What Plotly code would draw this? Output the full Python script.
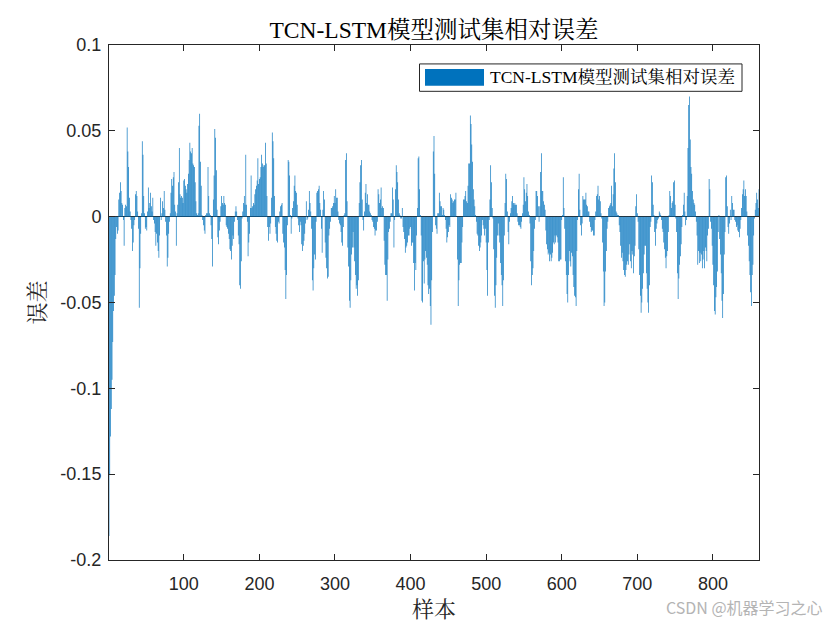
import plotly.graph_objects as go

# Relative error per test sample, in thousandths
errors_milli = [
    -186, -150, -128, -112, -95, -73, -55, -46, -34, -13, -6, -10, -8, 10, 14, 20, 15, 8, 7, -2,
    -17, 5, 7, 6, 52, 38, 29, 11, 3, -2, -7, -20, -15, -5, -2, 13, 15, 12, 3, -7,
    -53, -30, -10, 2, 44, 36, 12, 2, -7, -6, -8, 3, 17, 5, 8, 14, 6, 3, 11, -2,
    -4, -9, -17, -10, -15, -20, -24, -11, 11, -2, 2, 9, 5, 15, 4, -3, -11, -29, -24, -10,
    -3, 2, 14, 22, 18, 23, 26, 7, 3, -17, 2, 7, 20, 40, 13, 11, 12, 11, 8, 21,
    22, 18, 16, 14, 19, 25, 33, 43, 38, 37, 40, 31, 30, 29, 20, 9, 2, 1, 2, 53,
    60, 32, 18, 1, -2, -5, -8, -10, 1, 2, 2, 29, 12, 2, 1, -5, -13, -29, 10, 24,
    51, 46, 27, 4, -12, -16, -8, -3, 6, 12, 8, 7, 12, 8, 7, -5, -6, -7, -10, -13,
    -19, -20, -25, -17, -11, -13, -3, 3, 6, 3, -2, -11, -16, -40, -42, -26, -1, 3, 8, 12,
    7, 36, 7, -3, -23, -15, -10, 5, 24, 5, 6, 8, 7, 13, 16, 18, 21, 34, 19, 22,
    23, 29, 36, 31, 29, 30, 30, 43, 31, 12, -6, -14, -6, -10, -4, 11, 49, 44, 34, 12,
    -6, -10, -14, -15, -3, -4, 3, 6, 7, 8, -10, -15, -18, -31, -48, -34, -5, 33, 32, 24,
    1, -10, -1, 5, 9, 18, 24, 15, 14, 7, -1, -5, -9, -3, -5, -16, -20, -17, -14, -10,
    -4, 9, -2, -1, 4, 15, 8, 3, -7, -37, -43, -30, -22, -25, -3, 14, 15, 16, 18, 8,
    4, -7, -21, 4, 15, 10, -15, -24, -30, -36, -35, -11, -7, -3, 5, 5, 6, 8, 12, 8,
    16, 11, 11, 3, -2, -4, -5, -9, -15, -17, -6, 1, 2, 33, 37, 9, -18, -29, -49, -53,
    -37, -22, -18, -9, -18, -26, -34, -42, -40, -46, -37, 8, 20, 30, 33, 10, -2, -8, 3, 14,
    19, 8, 13, 7, 7, 3, 2, 1, -2, -3, -6, -7, -11, -8, -8, -3, 16, 13, 8, 10,
    17, 5, 6, 5, -14, -28, -34, -34, -49, -25, -9, -7, -3, 2, 2, 17, 10, -18, -2, 16,
    30, 26, 20, 10, 2, 1, -1, -1, 5, -6, -9, -13, -21, -18, -17, -15, -11, -11, -7, -6,
    -17, -15, -15, -27, -43, -27, -31, -11, 5, 34, 35, 16, 1, -11, -49, -50, -26, -39, -25, -20,
    -24, -28, -40, -45, -42, -52, -63, -37, -9, 38, 47, 25, -5, -7, -10, 2, 2, 14, 9, 6,
    6, 1, 5, 4, 1, -2, -7, -15, -12, -9, -5, -6, 13, 11, 10, 8, 9, 10, 10, 14,
    0, -25, -52, -37, -28, -27, -27, -15, -6, 10, 10, 12, 15, 9, 8, 18, 31, 31, 59, 54,
    42, 32, 16, 10, 6, 1, -3, -10, -11, -17, -20, -18, -15, -11, -2, -5, -7, -11, -7, -15,
    -31, -46, -15, -2, 10, 30, 20, 5, -1, -19, -46, -53, -40, -24, -11, -4, -11, -15, -27, -34,
    -40, -52, -37, -11, 8, 25, 22, 3, -9, -16, -3, 2, 5, 9, 12, 8, 7, 8, 7, 7,
    2, -3, -5, -5, -6, -7, -3, 2, 7, 23, 16, 9, 14, 19, 12, 3, 1, -4, -26, -40,
    -34, -30, -20, -7, -2, 15, 15, 12, 6, -3, 6, 26, 37, 15, 15, 9, 7, 4, -8, -16,
    -19, -22, -21, -26, -22, -26, -24, -21, -15, -16, -11, -15, -11, -12, -15, -26, -26, -25, -25, -2,
    1, 23, 5, -7, -26, -34, -45, -50, -34, -20, -26, -29, -21, -23, -34, -41, -46, -47, -52, -20,
    -2, 16, 25, 4, -5, -11, -4, 12, 10, 10, 10, 14, 7, 6, 3, 3, -3, -6, -9, -8,
    -8, -11, -11, -2, 3, 12, 13, 18, 10, 12, 9, 2, -1, -15, -32, -52, -50, -32, -20, -7,
    -3, 5, 6, 7, 8, 18, 6, 13, 28, 37, 20, 3, 2, 1, 1, -5, -9, -17, -24, -21,
    -26, -31, -34, -35, -31, -28, -26, -28, -22, -16, -26, -30, -20, -22, -33, -23, -17, 6, 13, 2,
    -3, -19, -34, -46, -56, -50, -42, -33, -22, -17, -17, -33, -42, -50, -56, -40, -6, -3, 24, 20,
    7, 1, -9, -17, -7, -4, -2, -1, 3, 2, 1, -2, -7, -9, -15, -19, -24, -30, -23, -20,
    -9, 1, 15, 12, 5, 8, 9, 20, 21, 7, -1, -9, -33, -48, -36, -28, -23, -16, -6, 1,
    7, 14, 3, -5, -2, 12, 40, 65, 70, 45, 29, 25, 15, 10, 8, 7, 3, -3, -11, -28,
    -20, -27, -21, -26, -22, -30, -25, -20, -30, -18, -20, -26, -11, -7, 22, 16, -3, -7, -17, -28,
    -40, -55, -57, -47, -41, -32, -9, 1, -13, -22, -33, -49, -59, -45, -22, -9, 23, 24, 6, -6,
    -10, -4, 4, -2, 12, 8, 4, 4, -2, -3, -6, -5, -8, -9, -12, -7, -2, 5, 13, 16,
    21, 12, 16, 12, 3, -11, -17, -26, -34, -44, -52, -34, -28, -11, -1, 4, 8, 14, 10, 5, 16,
]
samples = list(range(1, len(errors_milli) + 1))
errors = [v / 1000 for v in errors_milli]

x_tick_vals = [100, 200, 300, 400, 500, 600, 700, 800]
y_tick_vals = [-0.2, -0.15, -0.1, -0.05, 0, 0.05, 0.1]
y_tick_text = ["-0.2", "-0.15", "-0.1", "-0.05", "0", "0.05", "0.1"]
series_name = "TCN-LSTM模型测试集相对误差"
title_text = "TCN-LSTM模型测试集相对误差"
x_label = "样本"
y_label = "误差"
watermark = "CSDN @机器学习之心"

BAR_COLOR = "#0072BD"
AX_COLOR = "#262626"
SERIF = "Liberation Serif, Times New Roman, Noto Serif CJK SC, Noto Sans CJK SC, serif"
SANS = "Liberation Sans, Arial, Helvetica, sans-serif"

# page body has an 8px default margin, so the figure is 8px smaller than the window
FIG_W, FIG_H = 832, 622

fig = go.Figure()
fig.add_trace(go.Bar(
    x=samples, y=errors, name=series_name,
    marker=dict(color=BAR_COLOR, line=dict(width=0)),
    showlegend=False,
))

axis_common = dict(
    showline=True, linecolor=AX_COLOR, linewidth=1, mirror="ticks",
    ticks="inside", ticklen=6, tickwidth=1, tickcolor=AX_COLOR,
    showgrid=False,
    tickfont=dict(family=SANS, size=18, color=AX_COLOR),
)

fig.update_layout(
    width=FIG_W, height=FIG_H,
    paper_bgcolor="white", plot_bgcolor="white",
    margin=dict(l=101, r=81, t=37, b=68),
    bargap=0.12,
    title=dict(text=title_text, x=(101 + 751) / 2 / FIG_W, xanchor="center",
               y=1 - 22 / FIG_H, yanchor="middle", yref="container",
               font=dict(family=SERIF, size=23.5, color="black")),
    xaxis=dict(range=[1, 861], tickvals=x_tick_vals, zeroline=False,
               ticklabelstandoff=7,
               title=dict(text=x_label, font=dict(family=SERIF, size=22, color=AX_COLOR), standoff=9),
               **axis_common),
    yaxis=dict(range=[-0.2, 0.1], tickvals=y_tick_vals, ticktext=y_tick_text,
               zeroline=True, zerolinecolor=AX_COLOR, zerolinewidth=1.2,
               ticklabelstandoff=3,
               title=dict(text=y_label, font=dict(family=SERIF, size=22, color=AX_COLOR), standoff=8),
               **axis_common),
)

# MATLAB-style legend box with a wide colour patch
fig.add_shape(type="rect", xref="paper", yref="paper",
              x0=(419.5 - 109) / 650, x1=(742 - 109) / 650,
              y0=(562 - 91.5) / 517, y1=(562 - 64) / 517,
              line=dict(color=AX_COLOR, width=1), fillcolor="white", layer="above")
fig.add_shape(type="rect", xref="paper", yref="paper",
              x0=(425 - 109) / 650, x1=(484 - 109) / 650,
              y0=(562 - 86) / 517, y1=(562 - 69) / 517,
              line=dict(width=0), fillcolor=BAR_COLOR, layer="above")
fig.add_annotation(text=series_name, xref="paper", yref="paper",
                   x=(488 - 109) / 650, y=(562 - 77.5) / 517,
                   xanchor="left", yanchor="middle", showarrow=False,
                   font=dict(family=SERIF, size=17.5, color="black"))

fig.add_annotation(text=watermark, xref="paper", yref="paper",
                   x=(825 - 109) / 650, y=(562 - 609) / 517,
                   xanchor="right", yanchor="middle", showarrow=False,
                   font=dict(family="Noto Sans CJK SC, sans-serif", size=16, color="#b4b4b4"))

fig.write_html("out.html", config={"staticPlot": True})
